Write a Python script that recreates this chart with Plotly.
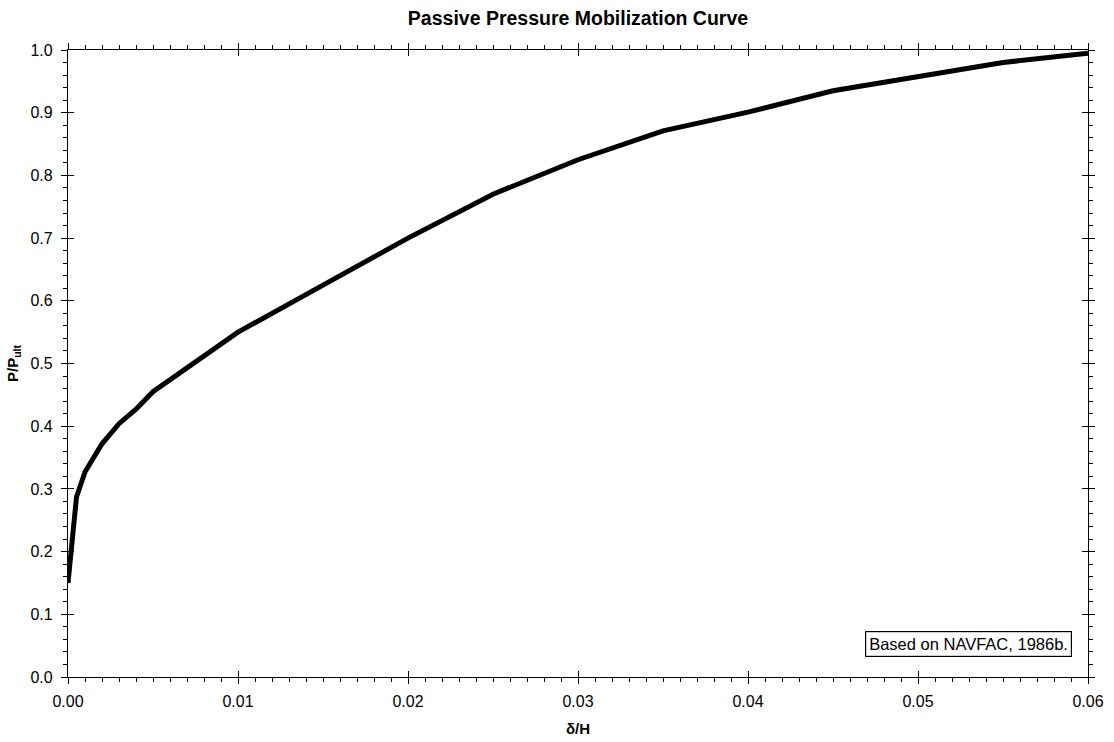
import plotly.graph_objects as go

# Data
delta_h = [0.0, 0.0005, 0.001, 0.002, 0.003, 0.004, 0.005, 0.01, 0.015, 0.02,
           0.025, 0.03, 0.035, 0.04, 0.045, 0.05, 0.055, 0.06]
p_pult = [0.15, 0.287, 0.327, 0.372, 0.404, 0.427, 0.455, 0.55, 0.625, 0.70,
          0.77, 0.825, 0.871, 0.901, 0.935, 0.957, 0.98, 0.995]

x_ticks = [0.0, 0.01, 0.02, 0.03, 0.04, 0.05, 0.06]
x_tick_labels = ["0.00", "0.01", "0.02", "0.03", "0.04", "0.05", "0.06"]
y_ticks = [0.0, 0.1, 0.2, 0.3, 0.4, 0.5, 0.6, 0.7, 0.8, 0.9, 1.0]
y_tick_labels = ["0.0", "0.1", "0.2", "0.3", "0.4", "0.5", "0.6", "0.7", "0.8", "0.9", "1.0"]

FONT = "Liberation Sans, Arial, Helvetica, sans-serif"

fig = go.Figure()
fig.add_trace(go.Scatter(x=delta_h, y=p_pult, mode="lines",
                         line=dict(color="black", width=5),
                         showlegend=False, hoverinfo="skip"))
# invisible trace for the overlay axes (inner halves of major ticks)
fig.add_trace(go.Scatter(x=[0], y=[0], xaxis="x2", yaxis="y2", mode="markers",
                         marker=dict(opacity=0), showlegend=False, hoverinfo="skip"))

common = dict(showline=True, linecolor="black", linewidth=1.3, mirror="ticks",
              showgrid=False, zeroline=False, tickcolor="black", tickwidth=1.3,
              automargin=False)

fig.update_layout(
    width=1114, height=742,
    margin=dict(l=68, r=26, t=50, b=65),
    paper_bgcolor="white", plot_bgcolor="white",
    font=dict(family=FONT, color="black", size=16),
    title=dict(text="<b>Passive Pressure Mobilization Curve</b>",
               x=0.5, xref="paper", y=1 - 18 / 742, yanchor="middle",
               font=dict(family=FONT, size=19.5, color="black")),
    xaxis=dict(range=[0, 0.06], tickvals=x_ticks, ticktext=x_tick_labels,
               ticks="outside", ticklen=6, ticklabelstandoff=4,
               minor=dict(dtick=0.001, ticks="outside", ticklen=4,
                          tickcolor="black", tickwidth=1.2),
               title=dict(text="<b>δ/H</b>", standoff=14,
                          font=dict(family=FONT, size=15)),
               **common),
    yaxis=dict(range=[0, 1.0], tickvals=y_ticks, ticktext=y_tick_labels,
               ticks="outside", ticklen=6, ticklabelstandoff=5,
               minor=dict(dtick=0.02, ticks="outside", ticklen=4,
                          tickcolor="black", tickwidth=1.2),
               title=dict(text="<b>P/P<sub>ult</sub></b>", standoff=8,
                          font=dict(family=FONT, size=15)),
               **common),
    xaxis2=dict(range=[0, 0.06], overlaying="x", tickvals=x_ticks,
                ticks="inside", ticklen=6, showticklabels=False,
                showline=False, mirror="ticks", showgrid=False, zeroline=False,
                tickcolor="black", tickwidth=1.3),
    yaxis2=dict(range=[0, 1.0], overlaying="y", tickvals=y_ticks,
                ticks="inside", ticklen=6, showticklabels=False,
                showline=False, mirror="ticks", showgrid=False, zeroline=False,
                tickcolor="black", tickwidth=1.3),
    annotations=[dict(text="Based on NAVFAC, 1986b.", xref="paper", yref="paper",
                      x=0.984, y=0.053, xanchor="right", yanchor="middle",
                      showarrow=False, bordercolor="black", borderwidth=1.2,
                      borderpad=3, bgcolor="white",
                      font=dict(family=FONT, size=16.5, color="black"))],
)

fig.write_html("out.html")
